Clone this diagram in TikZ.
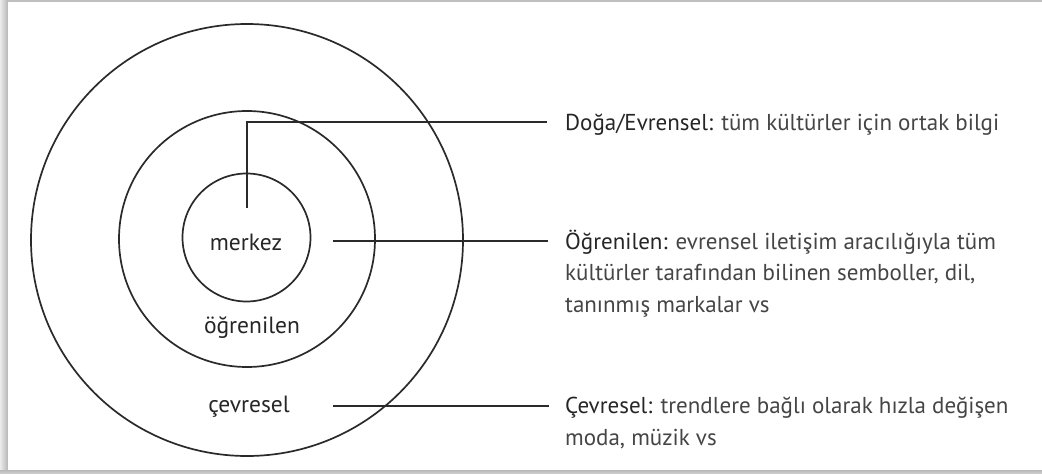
\documentclass[tikz,border=0pt]{standalone}
\usepackage{fontspec}
\setmainfont{PT Sans}
\definecolor{ln}{HTML}{2A2A2A}
\definecolor{tx}{HTML}{454545}
\definecolor{lb}{HTML}{262626}
\begin{document}
\begin{tikzpicture}[x=1pt,y=-1pt,
  ring/.style={circle,draw=ln,line width=1.7pt,inner sep=0pt},
  conn/.style={draw=ln,line width=1.7pt},
  desc/.style={anchor=base west,inner sep=0pt,align=left,text=tx,font=\fontsize{23}{31.5}\selectfont},
  lab/.style={inner sep=0pt,text=lb,font=\fontsize{23.5}{24}\selectfont}]
\useasboundingbox (0,0) rectangle (1042,474);
% frame and shadow
\fill[gray!45] (0,0) rectangle (1042,474);
\shade[left color=gray!15,right color=gray!55] (0,0) rectangle (7.5,474);
\shade[top color=gray!55,bottom color=gray!35] (0,470) rectangle (1042,474);
\fill[gray!50] (7.5,0) rectangle (1042,2);
\fill[white] (7.5,2) rectangle (1042,470);
% rings
\node[ring,minimum size=432pt] (outer) at (247,240) {};
\node[ring,minimum size=256pt] (middle) at (247,239) {};
\node[ring,minimum size=128pt] (inner) at (246.5,237.5) {};
% ring labels
\node[lab] (merkez) at (246,242) {merkez};
\node[lab] (ogr) at (252,328) {öğrenilen};
\node[lab] (cev) at (249,407) {çevresel};
% descriptions (base anchor = baseline of last line)
\node[desc] (d1) at (565,130) {\textcolor{lb}{Doğa/Evrensel:} tüm kültürler için ortak bilgi};
\node[desc] (d2) at (565,312) {\textcolor{lb}{Öğrenilen:} evrensel iletişim aracılığıyla tüm\\kültürler tarafından bilinen semboller, dil,\\tanınmış markalar vs};
\node[desc] (d3) at (565,445) {\textcolor{lb}{Çevresel:} trendlere bağlı olarak hızla değişen\\moda, müzik vs};
% connector anchors
\coordinate (s1) at (247,208);
\coordinate (k1) at (247,122);
\coordinate (e1) at (547,122);
\coordinate (s2) at (333,241);
\coordinate (e2) at (548,241);
\coordinate (s3) at (333,406);
\coordinate (e3) at (549,406);
\draw[conn] (s1) -- (k1) -- (e1);
\draw[conn] (s2) -- (e2);
\draw[conn] (s3) -- (e3);
\end{tikzpicture}
\end{document}
